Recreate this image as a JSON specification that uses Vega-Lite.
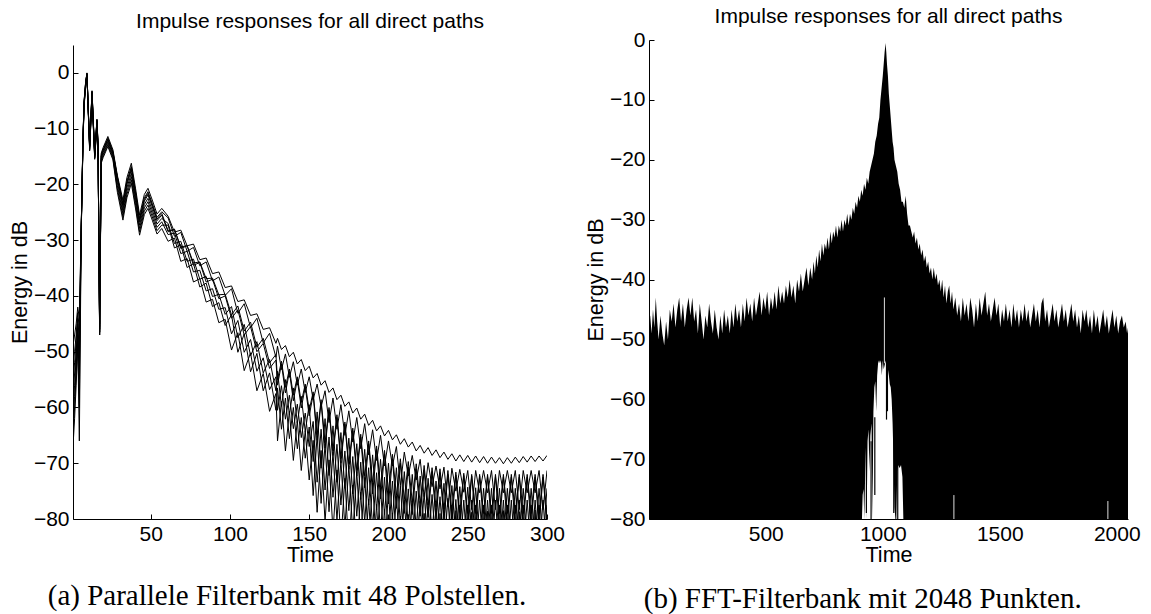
{"$schema":"https://vega.github.io/schema/vega-lite/v6.json","background":"white","padding":{"left":9,"top":6,"right":5,"bottom":0},
"config":{"view":{"stroke":null},"font":"Liberation Sans",
"axis":{"grid":false,"domainColor":"#000","domainWidth":1,"tickColor":"#000","tickSize":-5,"labelPadding":9,"labelFont":"Liberation Sans","labelFontSize":21,"labelColor":"#000","titleFont":"Liberation Sans","titleFontSize":21.5,"titleFontWeight":"normal","titleColor":"#000","labelFlush":false,"labelOverlap":false},
"axisX":{"titlePadding":0,"format":"d"},"axisY":{"titlePadding":2},
"title":{"font":"Liberation Sans","fontSize":21,"fontWeight":"normal","color":"#000"}},
"datasets":{
"fb":[
{"k":1,"t":1,"v":-49},{"k":1,"t":2,"v":-47},{"k":1,"t":3,"v":-45},{"k":1,"t":4,"v":-42},{"k":1,"t":5,"v":-44},{"k":1,"t":6.2,"v":-28},{"k":1,"t":7.3,"v":-12},{"k":1,"t":8,"v":-5.5},{"k":1,"t":9,"v":-2},{"k":1,"t":9.8,"v":0},{"k":1,"t":11.5,"v":-13.5},{"k":1,"t":13,"v":-3.7},{"k":1,"t":14.7,"v":-15},{"k":1,"t":16.1,"v":-8.8},{"k":1,"t":16.8,"v":-13.3},{"k":1,"t":17.8,"v":-47},{"k":1,"t":18.8,"v":-14.4},{"k":1,"t":20,"v":-13.4},{"k":1,"t":23,"v":-11.4},{"k":1,"t":26.2,"v":-13.8},{"k":1,"t":29,"v":-18.4},{"k":1,"t":32.5,"v":-22.8},{"k":1,"t":35,"v":-18.8},{"k":1,"t":37.8,"v":-16.2},{"k":1,"t":40.5,"v":-20.8},{"k":1,"t":43,"v":-25.5},{"k":1,"t":46,"v":-21.8},{"k":1,"t":48.3,"v":-20.7},{"k":1,"t":51,"v":-22.8},{"k":1,"t":54,"v":-25.3},{"k":1,"t":57,"v":-24.3},
{"k":1,"t":61,"v":-25.7},{"k":1,"t":65,"v":-28.55},{"k":1,"t":69,"v":-28.2},{"k":1,"t":73,"v":-31},{"k":1,"t":77,"v":-30.7},{"k":1,"t":81,"v":-33.5},{"k":1,"t":85,"v":-33.2},{"k":1,"t":89,"v":-36},{"k":1,"t":93,"v":-35.7},{"k":1,"t":97,"v":-38.5},{"k":1,"t":101,"v":-38.2},{"k":1,"t":105,"v":-41},{"k":1,"t":109,"v":-40.7},{"k":1,"t":113,"v":-43.5},{"k":1,"t":117,"v":-43.2},{"k":1,"t":121,"v":-46},{"k":1,"t":125,"v":-45.7},{"k":1,"t":129,"v":-48.5},
{"k":1,"t":130,"v":-47.6},{"k":1,"t":132.5,"v":-49.6},{"k":1,"t":135,"v":-48.9},{"k":1,"t":137.5,"v":-50.9},{"k":1,"t":140,"v":-50.1},{"k":1,"t":142.5,"v":-52.2},{"k":1,"t":145,"v":-51.4},{"k":1,"t":147.5,"v":-53.4},{"k":1,"t":150,"v":-52.6},{"k":1,"t":152.5,"v":-54.7},{"k":1,"t":155,"v":-53.9},{"k":1,"t":157.5,"v":-56},{"k":1,"t":160,"v":-55.2},{"k":1,"t":162.5,"v":-57.3},{"k":1,"t":165,"v":-56.5},{"k":1,"t":167.5,"v":-58.6},{"k":1,"t":170,"v":-57.8},{"k":1,"t":172.5,"v":-59.8},{"k":1,"t":175,"v":-59},{"k":1,"t":177.5,"v":-61},{"k":1,"t":180,"v":-60.1},{"k":1,"t":182.5,"v":-62.1},{"k":1,"t":185,"v":-61.2},{"k":1,"t":187.5,"v":-63.2},{"k":1,"t":190,"v":-62.3},{"k":1,"t":192.5,"v":-64.2},{"k":1,"t":195,"v":-63.3},{"k":1,"t":197.5,"v":-65.1},{"k":1,"t":200,"v":-64.1},{"k":1,"t":202.5,"v":-65.8},{"k":1,"t":205,"v":-64.9},{"k":1,"t":207.5,"v":-66.6},{"k":1,"t":210,"v":-65.6},{"k":1,"t":212.5,"v":-67.1},{"k":1,"t":215,"v":-66.2},{"k":1,"t":217.5,"v":-67.8},{"k":1,"t":220,"v":-66.8},{"k":1,"t":222.5,"v":-68.2},{"k":1,"t":225,"v":-67.2},{"k":1,"t":227.5,"v":-68.6},{"k":1,"t":230,"v":-67.6},{"k":1,"t":232.5,"v":-69},{"k":1,"t":235,"v":-68},{"k":1,"t":237.5,"v":-69.3},{"k":1,"t":240,"v":-68.3},{"k":1,"t":242.5,"v":-69.6},{"k":1,"t":245,"v":-68.5},{"k":1,"t":247.5,"v":-69.7},{"k":1,"t":250,"v":-68.6},{"k":1,"t":252.5,"v":-69.8},{"k":1,"t":255,"v":-68.7},{"k":1,"t":257.5,"v":-69.9},{"k":1,"t":260,"v":-68.8},{"k":1,"t":262.5,"v":-70},{"k":1,"t":265,"v":-68.9},{"k":1,"t":267.5,"v":-70},{"k":1,"t":270,"v":-69},{"k":1,"t":272.5,"v":-70.1},{"k":1,"t":275,"v":-69},{"k":1,"t":277.5,"v":-70},{"k":1,"t":280,"v":-68.9},{"k":1,"t":282.5,"v":-69.9},{"k":1,"t":285,"v":-68.8},{"k":1,"t":287.5,"v":-69.8},{"k":1,"t":290,"v":-68.7},{"k":1,"t":292.5,"v":-69.7},{"k":1,"t":295,"v":-68.7},{"k":1,"t":297.5,"v":-69.6},{"k":1,"t":300,"v":-68.6},
{"k":2,"t":1,"v":-52},{"k":2,"t":2,"v":-50},{"k":2,"t":3,"v":-47},{"k":2,"t":4,"v":-43},{"k":2,"t":5,"v":-46},{"k":2,"t":6.2,"v":-27.7},{"k":2,"t":7.3,"v":-11.7},{"k":2,"t":8,"v":-5.2},{"k":2,"t":9,"v":-1.7},{"k":2,"t":9.8,"v":-0.2},{"k":2,"t":11.5,"v":-13.2},{"k":2,"t":13,"v":-3.4},{"k":2,"t":14.7,"v":-14.7},{"k":2,"t":16.1,"v":-8.5},{"k":2,"t":16.8,"v":-13},{"k":2,"t":17.8,"v":-46.5},{"k":2,"t":18.8,"v":-14.7},{"k":2,"t":20,"v":-13.7},{"k":2,"t":23,"v":-11.7},{"k":2,"t":26.2,"v":-14.1},{"k":2,"t":29,"v":-18.7},{"k":2,"t":32.5,"v":-23.4},{"k":2,"t":35,"v":-19.4},{"k":2,"t":37.8,"v":-16.8},{"k":2,"t":40.5,"v":-21.4},{"k":2,"t":43,"v":-26.1},{"k":2,"t":46,"v":-22.4},{"k":2,"t":48.3,"v":-21.3},{"k":2,"t":51,"v":-23.4},{"k":2,"t":54,"v":-25.9},{"k":2,"t":57,"v":-24.9},
{"k":2,"t":61,"v":-26},{"k":2,"t":65,"v":-29.3},{"k":2,"t":69,"v":-28.6},{"k":2,"t":73,"v":-32},{"k":2,"t":77,"v":-31.3},{"k":2,"t":81,"v":-34.6},{"k":2,"t":85,"v":-33.9},{"k":2,"t":89,"v":-37.3},{"k":2,"t":93,"v":-36.6},{"k":2,"t":97,"v":-39.9},{"k":2,"t":101,"v":-38.7},{"k":2,"t":105,"v":-43.1},{"k":2,"t":109,"v":-41.4},{"k":2,"t":113,"v":-45.7},{"k":2,"t":117,"v":-44},{"k":2,"t":121,"v":-48.4},{"k":2,"t":125,"v":-46.7},{"k":2,"t":129,"v":-51},
{"k":2,"t":130,"v":-49},{"k":2,"t":132.5,"v":-53.2},{"k":2,"t":135,"v":-50.4},{"k":2,"t":137.5,"v":-54.6},{"k":2,"t":140,"v":-51.8},{"k":2,"t":142.5,"v":-56},{"k":2,"t":145,"v":-53.1},{"k":2,"t":147.5,"v":-57.3},{"k":2,"t":150,"v":-54.5},{"k":2,"t":152.5,"v":-58.6},{"k":2,"t":155,"v":-55.8},{"k":2,"t":157.5,"v":-59.9},{"k":2,"t":160,"v":-57},{"k":2,"t":162.5,"v":-62.7},{"k":2,"t":165,"v":-58.3},{"k":2,"t":167.5,"v":-63.9},{"k":2,"t":170,"v":-59.5},{"k":2,"t":172.5,"v":-65},{"k":2,"t":175,"v":-60.6},{"k":2,"t":177.5,"v":-66.2},{"k":2,"t":180,"v":-61.8},{"k":2,"t":182.5,"v":-67.4},{"k":2,"t":185,"v":-62.9},{"k":2,"t":187.5,"v":-68.5},{"k":2,"t":190,"v":-64},{"k":2,"t":192.5,"v":-69.5},{"k":2,"t":195,"v":-65},{"k":2,"t":197.5,"v":-70.5},{"k":2,"t":200,"v":-66},{"k":2,"t":202.5,"v":-70.5},{"k":2,"t":205,"v":-67},{"k":2,"t":207.5,"v":-74},{"k":2,"t":210,"v":-68},{"k":2,"t":212.5,"v":-72.3},{"k":2,"t":215,"v":-68.6},{"k":2,"t":217.5,"v":-73},{"k":2,"t":220,"v":-69.3},{"k":2,"t":222.5,"v":-76},{"k":2,"t":225,"v":-69.9},{"k":2,"t":227.5,"v":-74.2},{"k":2,"t":230,"v":-70.5},{"k":2,"t":232.5,"v":-74.6},{"k":2,"t":235,"v":-70.7},{"k":2,"t":237.5,"v":-77.8},{"k":2,"t":240,"v":-70.9},{"k":2,"t":242.5,"v":-75},{"k":2,"t":245,"v":-71.1},{"k":2,"t":247.5,"v":-75.2},{"k":2,"t":250,"v":-71.3},{"k":2,"t":252.5,"v":-78.3},{"k":2,"t":255,"v":-71.3},{"k":2,"t":257.5,"v":-75.3},{"k":2,"t":260,"v":-71.3},{"k":2,"t":262.5,"v":-75.3},{"k":2,"t":265,"v":-71.3},{"k":2,"t":267.5,"v":-78.3},{"k":2,"t":270,"v":-71.3},{"k":2,"t":272.5,"v":-75.3},{"k":2,"t":275,"v":-71.3},{"k":2,"t":277.5,"v":-75.3},{"k":2,"t":280,"v":-71.3},{"k":2,"t":282.5,"v":-78.3},{"k":2,"t":285,"v":-71.3},{"k":2,"t":287.5,"v":-75.3},{"k":2,"t":290,"v":-71.3},{"k":2,"t":292.5,"v":-75.3},{"k":2,"t":295,"v":-71.3},{"k":2,"t":297.5,"v":-78.3},{"k":2,"t":300,"v":-71.3},
{"k":3,"t":1,"v":-55},{"k":3,"t":2,"v":-52},{"k":3,"t":3,"v":-48},{"k":3,"t":4,"v":-44},{"k":3,"t":5,"v":-48},{"k":3,"t":6.2,"v":-28.3},{"k":3,"t":7.3,"v":-12.3},{"k":3,"t":8,"v":-5.8},{"k":3,"t":9,"v":-2.3},{"k":3,"t":9.8,"v":-0.3},{"k":3,"t":11.5,"v":-13.8},{"k":3,"t":13,"v":-4},{"k":3,"t":14.7,"v":-15.3},{"k":3,"t":16.1,"v":-9.1},{"k":3,"t":16.8,"v":-13.6},{"k":3,"t":17.8,"v":-46},{"k":3,"t":18.8,"v":-15},{"k":3,"t":20,"v":-14},{"k":3,"t":23,"v":-12},{"k":3,"t":26.2,"v":-14.4},{"k":3,"t":29,"v":-19},{"k":3,"t":32.5,"v":-24},{"k":3,"t":35,"v":-20},{"k":3,"t":37.8,"v":-17.4},{"k":3,"t":40.5,"v":-22},{"k":3,"t":43,"v":-26.7},{"k":3,"t":46,"v":-23},{"k":3,"t":48.3,"v":-21.9},{"k":3,"t":51,"v":-24},{"k":3,"t":54,"v":-26.5},{"k":3,"t":57,"v":-25.5},
{"k":3,"t":61,"v":-28.5},{"k":3,"t":65,"v":-28},{"k":3,"t":69,"v":-31.5},{"k":3,"t":73,"v":-31},{"k":3,"t":77,"v":-34.5},{"k":3,"t":81,"v":-34},{"k":3,"t":85,"v":-37.5},{"k":3,"t":89,"v":-37},{"k":3,"t":93,"v":-40.5},{"k":3,"t":97,"v":-40},{"k":3,"t":101,"v":-44},{"k":3,"t":105,"v":-42.5},{"k":3,"t":109,"v":-47},{"k":3,"t":113,"v":-45.5},{"k":3,"t":117,"v":-50},{"k":3,"t":121,"v":-48.5},{"k":3,"t":125,"v":-53},{"k":3,"t":129,"v":-51.5},
{"k":3,"t":130,"v":-56},{"k":3,"t":132.5,"v":-52.2},{"k":3,"t":135,"v":-57.4},{"k":3,"t":137.5,"v":-53.6},{"k":3,"t":140,"v":-58.8},{"k":3,"t":142.5,"v":-55},{"k":3,"t":145,"v":-60.1},{"k":3,"t":147.5,"v":-56.3},{"k":3,"t":150,"v":-61.5},{"k":3,"t":152.5,"v":-57.7},{"k":3,"t":155,"v":-65.9},{"k":3,"t":157.5,"v":-59.1},{"k":3,"t":160,"v":-67.3},{"k":3,"t":162.5,"v":-60.4},{"k":3,"t":165,"v":-68.6},{"k":3,"t":167.5,"v":-61.8},{"k":3,"t":170,"v":-70},{"k":3,"t":172.5,"v":-63},{"k":3,"t":175,"v":-71.1},{"k":3,"t":177.5,"v":-64.2},{"k":3,"t":180,"v":-72.3},{"k":3,"t":182.5,"v":-65.3},{"k":3,"t":185,"v":-74.4},{"k":3,"t":187.5,"v":-66.5},{"k":3,"t":190,"v":-75.5},{"k":3,"t":192.5,"v":-67.5},{"k":3,"t":195,"v":-76.4},{"k":3,"t":197.5,"v":-68.3},{"k":3,"t":200,"v":-77.3},{"k":3,"t":202.5,"v":-69.2},{"k":3,"t":205,"v":-78.1},{"k":3,"t":207.5,"v":-70},{"k":3,"t":210,"v":-79},{"k":3,"t":212.5,"v":-70.7},{"k":3,"t":215,"v":-79.2},{"k":3,"t":217.5,"v":-71},{"k":3,"t":220,"v":-79.5},{"k":3,"t":222.5,"v":-71.2},{"k":3,"t":225,"v":-79.7},{"k":3,"t":227.5,"v":-71.5},{"k":3,"t":230,"v":-80},{"k":3,"t":232.5,"v":-71.7},{"k":3,"t":235,"v":-80.2},{"k":3,"t":237.5,"v":-72},{"k":3,"t":240,"v":-80.5},{"k":3,"t":242.5,"v":-72.1},{"k":3,"t":245,"v":-80.7},{"k":3,"t":247.5,"v":-72.2},{"k":3,"t":250,"v":-80.8},{"k":3,"t":252.5,"v":-72.3},{"k":3,"t":255,"v":-80.8},{"k":3,"t":257.5,"v":-72.3},{"k":3,"t":260,"v":-80.9},{"k":3,"t":262.5,"v":-72.4},{"k":3,"t":265,"v":-80.9},{"k":3,"t":267.5,"v":-72.4},{"k":3,"t":270,"v":-81},{"k":3,"t":272.5,"v":-72.5},{"k":3,"t":275,"v":-81},{"k":3,"t":277.5,"v":-72.5},{"k":3,"t":280,"v":-81},{"k":3,"t":282.5,"v":-72.5},{"k":3,"t":285,"v":-81},{"k":3,"t":287.5,"v":-72.5},{"k":3,"t":290,"v":-81},{"k":3,"t":292.5,"v":-72.5},{"k":3,"t":295,"v":-81},{"k":3,"t":297.5,"v":-72.5},{"k":3,"t":300,"v":-81},
{"k":4,"t":1,"v":-57},{"k":4,"t":2,"v":-54},{"k":4,"t":3,"v":-50},{"k":4,"t":4,"v":-45},{"k":4,"t":5,"v":-50},{"k":4,"t":6.2,"v":-27.5},{"k":4,"t":7.3,"v":-11.5},{"k":4,"t":8,"v":-5},{"k":4,"t":9,"v":-1.5},{"k":4,"t":9.8,"v":-0.1},{"k":4,"t":11.5,"v":-13},{"k":4,"t":13,"v":-3.2},{"k":4,"t":14.7,"v":-14.5},{"k":4,"t":16.1,"v":-8.3},{"k":4,"t":16.8,"v":-12.8},{"k":4,"t":17.8,"v":-45.5},{"k":4,"t":18.8,"v":-15.3},{"k":4,"t":20,"v":-14.3},{"k":4,"t":23,"v":-12.3},{"k":4,"t":26.2,"v":-14.7},{"k":4,"t":29,"v":-19.6},{"k":4,"t":32.5,"v":-24.6},{"k":4,"t":35,"v":-20.6},{"k":4,"t":37.8,"v":-18},{"k":4,"t":40.5,"v":-22.6},{"k":4,"t":43,"v":-27.3},{"k":4,"t":46,"v":-23.6},{"k":4,"t":48.3,"v":-22.5},{"k":4,"t":51,"v":-24.6},{"k":4,"t":54,"v":-27.1},{"k":4,"t":57,"v":-26.1},
{"k":4,"t":61,"v":-27},{"k":4,"t":65,"v":-30.6},{"k":4,"t":69,"v":-30.2},{"k":4,"t":73,"v":-33.8},{"k":4,"t":77,"v":-33.4},{"k":4,"t":81,"v":-37},{"k":4,"t":85,"v":-36.5},{"k":4,"t":89,"v":-40.1},{"k":4,"t":93,"v":-39.7},{"k":4,"t":97,"v":-43.3},{"k":4,"t":101,"v":-41.9},{"k":4,"t":105,"v":-47.5},{"k":4,"t":109,"v":-45.1},{"k":4,"t":113,"v":-50.7},{"k":4,"t":117,"v":-48.2},{"k":4,"t":121,"v":-53.8},{"k":4,"t":125,"v":-51.4},{"k":4,"t":129,"v":-57},
{"k":4,"t":130,"v":-53.5},{"k":4,"t":132.5,"v":-59.8},{"k":4,"t":135,"v":-55},{"k":4,"t":137.5,"v":-61.3},{"k":4,"t":140,"v":-56.5},{"k":4,"t":142.5,"v":-62.8},{"k":4,"t":145,"v":-58},{"k":4,"t":147.5,"v":-64.3},{"k":4,"t":150,"v":-59.5},{"k":4,"t":152.5,"v":-69.7},{"k":4,"t":155,"v":-60.8},{"k":4,"t":157.5,"v":-70.9},{"k":4,"t":160,"v":-62},{"k":4,"t":162.5,"v":-72.2},{"k":4,"t":165,"v":-63.3},{"k":4,"t":167.5,"v":-73.4},{"k":4,"t":170,"v":-64.5},{"k":4,"t":172.5,"v":-74.5},{"k":4,"t":175,"v":-65.5},{"k":4,"t":177.5,"v":-75.5},{"k":4,"t":180,"v":-66.5},{"k":4,"t":182.5,"v":-76.5},{"k":4,"t":185,"v":-67.5},{"k":4,"t":187.5,"v":-77.5},{"k":4,"t":190,"v":-68.5},{"k":4,"t":192.5,"v":-78.4},{"k":4,"t":195,"v":-69.3},{"k":4,"t":197.5,"v":-79.2},{"k":4,"t":200,"v":-70},{"k":4,"t":202.5,"v":-79.9},{"k":4,"t":205,"v":-70.8},{"k":4,"t":207.5,"v":-80.7},{"k":4,"t":210,"v":-71.5},{"k":4,"t":212.5,"v":-81.2},{"k":4,"t":215,"v":-72},{"k":4,"t":217.5,"v":-81.6},{"k":4,"t":220,"v":-72.3},{"k":4,"t":222.5,"v":-82},{"k":4,"t":225,"v":-72.7},{"k":4,"t":227.5,"v":-82.5},{"k":4,"t":230,"v":-73.2},{"k":4,"t":232.5,"v":-82.9},{"k":4,"t":235,"v":-73.6},{"k":4,"t":237.5,"v":-83.3},{"k":4,"t":240,"v":-74},{"k":4,"t":242.5,"v":-83.5},{"k":4,"t":245,"v":-74.2},{"k":4,"t":247.5,"v":-83.7},{"k":4,"t":250,"v":-74.3},{"k":4,"t":252.5,"v":-83.8},{"k":4,"t":255,"v":-74.4},{"k":4,"t":257.5,"v":-84},{"k":4,"t":260,"v":-74.5},{"k":4,"t":262.5,"v":-84},{"k":4,"t":265,"v":-74.5},{"k":4,"t":267.5,"v":-84},{"k":4,"t":270,"v":-74.5},{"k":4,"t":272.5,"v":-84},{"k":4,"t":275,"v":-74.5},{"k":4,"t":277.5,"v":-84},{"k":4,"t":280,"v":-74.5},{"k":4,"t":282.5,"v":-84},{"k":4,"t":285,"v":-74.5},{"k":4,"t":287.5,"v":-84},{"k":4,"t":290,"v":-74.5},{"k":4,"t":292.5,"v":-84},{"k":4,"t":295,"v":-74.5},{"k":4,"t":297.5,"v":-84},{"k":4,"t":300,"v":-74.5},
{"k":5,"t":1,"v":-60},{"k":5,"t":2,"v":-56},{"k":5,"t":3,"v":-51},{"k":5,"t":4,"v":-46},{"k":5,"t":5,"v":-52},{"k":5,"t":6.2,"v":-28.5},{"k":5,"t":7.3,"v":-12.5},{"k":5,"t":8,"v":-6},{"k":5,"t":9,"v":-2.5},{"k":5,"t":9.8,"v":-0.5},{"k":5,"t":11.5,"v":-14},{"k":5,"t":13,"v":-4.2},{"k":5,"t":14.7,"v":-15.5},{"k":5,"t":16.1,"v":-9.3},{"k":5,"t":16.8,"v":-13.8},{"k":5,"t":17.8,"v":-45},{"k":5,"t":18.8,"v":-15.6},{"k":5,"t":20,"v":-14.6},{"k":5,"t":23,"v":-12.6},{"k":5,"t":26.2,"v":-15},{"k":5,"t":29,"v":-20.2},{"k":5,"t":32.5,"v":-25.2},{"k":5,"t":35,"v":-21.2},{"k":5,"t":37.8,"v":-18.6},{"k":5,"t":40.5,"v":-23.2},{"k":5,"t":43,"v":-27.9},{"k":5,"t":46,"v":-24.2},{"k":5,"t":48.3,"v":-23.1},{"k":5,"t":51,"v":-25.2},{"k":5,"t":54,"v":-27.7},{"k":5,"t":57,"v":-26.7},
{"k":5,"t":61,"v":-29},{"k":5,"t":65,"v":-28.7},{"k":5,"t":69,"v":-32.4},{"k":5,"t":73,"v":-32},{"k":5,"t":77,"v":-35.7},{"k":5,"t":81,"v":-35.4},{"k":5,"t":85,"v":-39.1},{"k":5,"t":89,"v":-38.7},{"k":5,"t":93,"v":-42.4},{"k":5,"t":97,"v":-42.1},{"k":5,"t":101,"v":-46.8},{"k":5,"t":105,"v":-44.4},{"k":5,"t":109,"v":-50.1},{"k":5,"t":113,"v":-47.8},{"k":5,"t":117,"v":-53.5},{"k":5,"t":121,"v":-51.1},{"k":5,"t":125,"v":-56.8},{"k":5,"t":129,"v":-54.5},
{"k":5,"t":130,"v":-60.5},{"k":5,"t":132.5,"v":-56.1},{"k":5,"t":135,"v":-62.1},{"k":5,"t":137.5,"v":-57.8},{"k":5,"t":140,"v":-63.8},{"k":5,"t":142.5,"v":-59.4},{"k":5,"t":145,"v":-65.4},{"k":5,"t":147.5,"v":-61},{"k":5,"t":150,"v":-67},{"k":5,"t":152.5,"v":-62.5},{"k":5,"t":155,"v":-73.4},{"k":5,"t":157.5,"v":-63.9},{"k":5,"t":160,"v":-74.8},{"k":5,"t":162.5,"v":-65.3},{"k":5,"t":165,"v":-76.1},{"k":5,"t":167.5,"v":-66.6},{"k":5,"t":170,"v":-77.5},{"k":5,"t":172.5,"v":-67.8},{"k":5,"t":175,"v":-78.5},{"k":5,"t":177.5,"v":-68.8},{"k":5,"t":180,"v":-79.5},{"k":5,"t":182.5,"v":-69.8},{"k":5,"t":185,"v":-80.5},{"k":5,"t":187.5,"v":-70.8},{"k":5,"t":190,"v":-81.5},{"k":5,"t":192.5,"v":-71.7},{"k":5,"t":195,"v":-82.3},{"k":5,"t":197.5,"v":-72.5},{"k":5,"t":200,"v":-83},{"k":5,"t":202.5,"v":-73.2},{"k":5,"t":205,"v":-83.8},{"k":5,"t":207.5,"v":-74},{"k":5,"t":210,"v":-84.5},{"k":5,"t":212.5,"v":-74.6},{"k":5,"t":215,"v":-85},{"k":5,"t":217.5,"v":-75},{"k":5,"t":220,"v":-85.2},{"k":5,"t":222.5,"v":-75.3},{"k":5,"t":225,"v":-85.5},{"k":5,"t":227.5,"v":-75.6},{"k":5,"t":230,"v":-85.8},{"k":5,"t":232.5,"v":-76},{"k":5,"t":235,"v":-86},{"k":5,"t":237.5,"v":-76.3},{"k":5,"t":240,"v":-86.5},{"k":5,"t":242.5,"v":-76.5},{"k":5,"t":245,"v":-86.6},{"k":5,"t":247.5,"v":-76.6},{"k":5,"t":250,"v":-86.8},{"k":5,"t":252.5,"v":-76.6},{"k":5,"t":255,"v":-86.8},{"k":5,"t":257.5,"v":-76.6},{"k":5,"t":260,"v":-86.8},{"k":5,"t":262.5,"v":-76.6},{"k":5,"t":265,"v":-86.8},{"k":5,"t":267.5,"v":-76.6},{"k":5,"t":270,"v":-86.8},{"k":5,"t":272.5,"v":-76.6},{"k":5,"t":275,"v":-86.8},{"k":5,"t":277.5,"v":-76.6},{"k":5,"t":280,"v":-86.8},{"k":5,"t":282.5,"v":-76.6},{"k":5,"t":285,"v":-86.8},{"k":5,"t":287.5,"v":-76.6},{"k":5,"t":290,"v":-86.8},{"k":5,"t":292.5,"v":-76.6},{"k":5,"t":295,"v":-86.8},{"k":5,"t":297.5,"v":-76.6},{"k":5,"t":300,"v":-86.8},
{"k":6,"t":1,"v":-62},{"k":6,"t":2,"v":-58},{"k":6,"t":3,"v":-53},{"k":6,"t":4,"v":-47},{"k":6,"t":5,"v":-55},{"k":6,"t":6.2,"v":-27.8},{"k":6,"t":7.3,"v":-11.8},{"k":6,"t":8,"v":-5.3},{"k":6,"t":9,"v":-1.8},{"k":6,"t":9.8,"v":-0.2},{"k":6,"t":11.5,"v":-13.3},{"k":6,"t":13,"v":-3.5},{"k":6,"t":14.7,"v":-14.8},{"k":6,"t":16.1,"v":-8.6},{"k":6,"t":16.8,"v":-13.1},{"k":6,"t":17.8,"v":-46},{"k":6,"t":18.8,"v":-15.9},{"k":6,"t":20,"v":-14.9},{"k":6,"t":23,"v":-12.9},{"k":6,"t":26.2,"v":-15.3},{"k":6,"t":29,"v":-20.8},{"k":6,"t":32.5,"v":-25.8},{"k":6,"t":35,"v":-21.8},{"k":6,"t":37.8,"v":-19.2},{"k":6,"t":40.5,"v":-23.8},{"k":6,"t":43,"v":-28.5},{"k":6,"t":46,"v":-24.8},{"k":6,"t":48.3,"v":-23.7},{"k":6,"t":51,"v":-25.8},{"k":6,"t":54,"v":-28.3},{"k":6,"t":57,"v":-27.3},
{"k":6,"t":61,"v":-27.3},{"k":6,"t":65,"v":-31.4},{"k":6,"t":69,"v":-30.8},{"k":6,"t":73,"v":-34.9},{"k":6,"t":77,"v":-34.2},{"k":6,"t":81,"v":-38.4},{"k":6,"t":85,"v":-37.7},{"k":6,"t":89,"v":-41.9},{"k":6,"t":93,"v":-41.2},{"k":6,"t":97,"v":-45.3},{"k":6,"t":101,"v":-43.4},{"k":6,"t":105,"v":-50.1},{"k":6,"t":109,"v":-46.8},{"k":6,"t":113,"v":-53.6},{"k":6,"t":117,"v":-50.3},{"k":6,"t":121,"v":-57},{"k":6,"t":125,"v":-53.8},{"k":6,"t":129,"v":-60.5},
{"k":6,"t":130,"v":-56.5},{"k":6,"t":132.5,"v":-63.9},{"k":6,"t":135,"v":-58.3},{"k":6,"t":137.5,"v":-65.6},{"k":6,"t":140,"v":-60},{"k":6,"t":142.5,"v":-67.4},{"k":6,"t":145,"v":-61.8},{"k":6,"t":147.5,"v":-69.1},{"k":6,"t":150,"v":-63.5},{"k":6,"t":152.5,"v":-75.8},{"k":6,"t":155,"v":-65},{"k":6,"t":157.5,"v":-77.2},{"k":6,"t":160,"v":-66.5},{"k":6,"t":162.5,"v":-78.7},{"k":6,"t":165,"v":-68},{"k":6,"t":167.5,"v":-80.2},{"k":6,"t":170,"v":-69.5},{"k":6,"t":172.5,"v":-81.5},{"k":6,"t":175,"v":-70.5},{"k":6,"t":177.5,"v":-82.5},{"k":6,"t":180,"v":-71.5},{"k":6,"t":182.5,"v":-83.5},{"k":6,"t":185,"v":-72.5},{"k":6,"t":187.5,"v":-84.5},{"k":6,"t":190,"v":-73.5},{"k":6,"t":192.5,"v":-85.4},{"k":6,"t":195,"v":-74.3},{"k":6,"t":197.5,"v":-86.2},{"k":6,"t":200,"v":-75},{"k":6,"t":202.5,"v":-86.9},{"k":6,"t":205,"v":-75.8},{"k":6,"t":207.5,"v":-87.6},{"k":6,"t":210,"v":-76.5},{"k":6,"t":212.5,"v":-88},{"k":6,"t":215,"v":-76.7},{"k":6,"t":217.5,"v":-88.2},{"k":6,"t":220,"v":-76.8},{"k":6,"t":222.5,"v":-88.4},{"k":6,"t":225,"v":-77},{"k":6,"t":227.5,"v":-88.5},{"k":6,"t":230,"v":-77.2},{"k":6,"t":232.5,"v":-88.8},{"k":6,"t":235,"v":-77.4},{"k":6,"t":237.5,"v":-89},{"k":6,"t":240,"v":-77.5},{"k":6,"t":242.5,"v":-89},{"k":6,"t":245,"v":-77.5},{"k":6,"t":247.5,"v":-89},{"k":6,"t":250,"v":-77.5},{"k":6,"t":252.5,"v":-89},{"k":6,"t":255,"v":-77.5},{"k":6,"t":257.5,"v":-89},{"k":6,"t":260,"v":-77.5},{"k":6,"t":262.5,"v":-89},{"k":6,"t":265,"v":-77.5},{"k":6,"t":267.5,"v":-89},{"k":6,"t":270,"v":-77.5},{"k":6,"t":272.5,"v":-89},{"k":6,"t":275,"v":-77.5},{"k":6,"t":277.5,"v":-89},{"k":6,"t":280,"v":-77.5},{"k":6,"t":282.5,"v":-89},{"k":6,"t":285,"v":-77.5},{"k":6,"t":287.5,"v":-89},{"k":6,"t":290,"v":-77.5},{"k":6,"t":292.5,"v":-89},{"k":6,"t":295,"v":-77.5},{"k":6,"t":297.5,"v":-89},{"k":6,"t":300,"v":-77.5},
{"k":7,"t":1,"v":-65},{"k":7,"t":2,"v":-60},{"k":7,"t":3,"v":-54},{"k":7,"t":4,"v":-48},{"k":7,"t":5,"v":-66},{"k":7,"t":6.2,"v":-28.2},{"k":7,"t":7.3,"v":-12.2},{"k":7,"t":8,"v":-5.7},{"k":7,"t":9,"v":-2.2},{"k":7,"t":9.8,"v":-0.2},{"k":7,"t":11.5,"v":-13.7},{"k":7,"t":13,"v":-3.9},{"k":7,"t":14.7,"v":-15.2},{"k":7,"t":16.1,"v":-9},{"k":7,"t":16.8,"v":-13.5},{"k":7,"t":17.8,"v":-47},{"k":7,"t":18.8,"v":-16.2},{"k":7,"t":20,"v":-15.2},{"k":7,"t":23,"v":-13.2},{"k":7,"t":26.2,"v":-15.6},{"k":7,"t":29,"v":-21.4},{"k":7,"t":32.5,"v":-26.4},{"k":7,"t":35,"v":-22.4},{"k":7,"t":37.8,"v":-19.8},{"k":7,"t":40.5,"v":-24.4},{"k":7,"t":43,"v":-29.1},{"k":7,"t":46,"v":-25.4},{"k":7,"t":48.3,"v":-24.3},{"k":7,"t":51,"v":-26.4},{"k":7,"t":54,"v":-28.9},{"k":7,"t":57,"v":-27.9},
{"k":7,"t":61,"v":-30.2},{"k":7,"t":65,"v":-29.6},{"k":7,"t":69,"v":-33.8},{"k":7,"t":73,"v":-33.3},{"k":7,"t":77,"v":-37.5},{"k":7,"t":81,"v":-36.9},{"k":7,"t":85,"v":-41.1},{"k":7,"t":89,"v":-40.6},{"k":7,"t":93,"v":-44.8},{"k":7,"t":97,"v":-44.2},{"k":7,"t":101,"v":-49.7},{"k":7,"t":105,"v":-46.6},{"k":7,"t":109,"v":-53.4},{"k":7,"t":113,"v":-50.2},{"k":7,"t":117,"v":-57},{"k":7,"t":121,"v":-53.9},{"k":7,"t":125,"v":-60.7},{"k":7,"t":129,"v":-57.5},
{"k":7,"t":130,"v":-66},{"k":7,"t":132.5,"v":-58.9},{"k":7,"t":135,"v":-67.8},{"k":7,"t":137.5,"v":-60.7},{"k":7,"t":140,"v":-69.5},{"k":7,"t":142.5,"v":-62.4},{"k":7,"t":145,"v":-71.3},{"k":7,"t":147.5,"v":-64.2},{"k":7,"t":150,"v":-73},{"k":7,"t":152.5,"v":-65.9},{"k":7,"t":155,"v":-78.8},{"k":7,"t":157.5,"v":-67.7},{"k":7,"t":160,"v":-80.5},{"k":7,"t":162.5,"v":-69.4},{"k":7,"t":165,"v":-82.3},{"k":7,"t":167.5,"v":-71.2},{"k":7,"t":170,"v":-84},{"k":7,"t":172.5,"v":-72.7},{"k":7,"t":175,"v":-85.3},{"k":7,"t":177.5,"v":-73.9},{"k":7,"t":180,"v":-86.5},{"k":7,"t":182.5,"v":-75.2},{"k":7,"t":185,"v":-87.8},{"k":7,"t":187.5,"v":-76.4},{"k":7,"t":190,"v":-89},{"k":7,"t":192.5,"v":-77.4},{"k":7,"t":195,"v":-89.8},{"k":7,"t":197.5,"v":-78.2},{"k":7,"t":200,"v":-90.5},{"k":7,"t":202.5,"v":-78.9},{"k":7,"t":205,"v":-91.3},{"k":7,"t":207.5,"v":-79.5},{"k":7,"t":210,"v":-92},{"k":7,"t":212.5,"v":-79.2},{"k":7,"t":215,"v":-92},{"k":7,"t":217.5,"v":-80.5},{"k":7,"t":220,"v":-92.5},{"k":7,"t":222.5,"v":-79},{"k":7,"t":225,"v":-92.7},{"k":7,"t":227.5,"v":-80.8},{"k":7,"t":230,"v":-93},{"k":7,"t":232.5,"v":-79},{"k":7,"t":235,"v":-93},{"k":7,"t":237.5,"v":-80.5},{"k":7,"t":240,"v":-93},{"k":7,"t":242.5,"v":-78.5},{"k":7,"t":245,"v":-93},{"k":7,"t":247.5,"v":-81},{"k":7,"t":250,"v":-93},{"k":7,"t":252.5,"v":-78.8},{"k":7,"t":255,"v":-93},{"k":7,"t":257.5,"v":-80.5},{"k":7,"t":260,"v":-93},{"k":7,"t":262.5,"v":-78.6},{"k":7,"t":265,"v":-93},{"k":7,"t":267.5,"v":-81},{"k":7,"t":270,"v":-93},{"k":7,"t":272.5,"v":-78.5},{"k":7,"t":275,"v":-93},{"k":7,"t":277.5,"v":-80.8},{"k":7,"t":280,"v":-93},{"k":7,"t":282.5,"v":-78.7},{"k":7,"t":285,"v":-93},{"k":7,"t":287.5,"v":-80.5},{"k":7,"t":290,"v":-93},{"k":7,"t":292.5,"v":-78.4},{"k":7,"t":295,"v":-93},{"k":7,"t":297.5,"v":-80.6},{"k":7,"t":300,"v":-93},
{"k":8,"t":1,"v":-67},{"k":8,"t":2,"v":-62},{"k":8,"t":3,"v":-56},{"k":8,"t":4,"v":-49},{"k":8,"t":5,"v":-60},{"k":8,"t":6.2,"v":-27.6},{"k":8,"t":7.3,"v":-11.6},{"k":8,"t":8,"v":-5.1},{"k":8,"t":9,"v":-1.6},{"k":8,"t":9.8,"v":-0.1},{"k":8,"t":11.5,"v":-13.1},{"k":8,"t":13,"v":-3.3},{"k":8,"t":14.7,"v":-14.6},{"k":8,"t":16.1,"v":-8.4},{"k":8,"t":16.8,"v":-12.9},{"k":8,"t":17.8,"v":-46.5},{"k":8,"t":18.8,"v":-14.9},{"k":8,"t":20,"v":-13.9},{"k":8,"t":23,"v":-11.9},{"k":8,"t":26.2,"v":-14.3},{"k":8,"t":29,"v":-18.7},{"k":8,"t":32.5,"v":-23.7},{"k":8,"t":35,"v":-19.7},{"k":8,"t":37.8,"v":-17.1},{"k":8,"t":40.5,"v":-21.7},{"k":8,"t":43,"v":-26.4},{"k":8,"t":46,"v":-22.7},{"k":8,"t":48.3,"v":-21.6},{"k":8,"t":51,"v":-23.7},{"k":8,"t":54,"v":-26.2},{"k":8,"t":57,"v":-25.2},
{"k":8,"t":61,"v":-28.3},{"k":8,"t":65,"v":-28.1},{"k":8,"t":69,"v":-31.2},{"k":8,"t":73,"v":-31},{"k":8,"t":77,"v":-34.1},{"k":8,"t":81,"v":-33.9},{"k":8,"t":85,"v":-36.9},{"k":8,"t":89,"v":-36.8},{"k":8,"t":93,"v":-39.8},{"k":8,"t":97,"v":-39.7},{"k":8,"t":101,"v":-43.4},{"k":8,"t":105,"v":-41.8},{"k":8,"t":109,"v":-46.3},{"k":8,"t":113,"v":-44.7},{"k":8,"t":117,"v":-49.2},{"k":8,"t":121,"v":-47.6},{"k":8,"t":125,"v":-52},{"k":8,"t":129,"v":-50.5},
{"k":8,"t":130,"v":-55},{"k":8,"t":132.5,"v":-51.7},{"k":8,"t":135,"v":-56.4},{"k":8,"t":137.5,"v":-53.1},{"k":8,"t":140,"v":-57.8},{"k":8,"t":142.5,"v":-54.5},{"k":8,"t":145,"v":-59.1},{"k":8,"t":147.5,"v":-55.8},{"k":8,"t":150,"v":-60.5},{"k":8,"t":152.5,"v":-57.2},{"k":8,"t":155,"v":-64.9},{"k":8,"t":157.5,"v":-58.6},{"k":8,"t":160,"v":-66.3},{"k":8,"t":162.5,"v":-60},{"k":8,"t":165,"v":-67.6},{"k":8,"t":167.5,"v":-61.3},{"k":8,"t":170,"v":-69},{"k":8,"t":172.5,"v":-62.6},{"k":8,"t":175,"v":-70.1},{"k":8,"t":177.5,"v":-63.7},{"k":8,"t":180,"v":-71.3},{"k":8,"t":182.5,"v":-64.8},{"k":8,"t":185,"v":-72.4},{"k":8,"t":187.5,"v":-66},{"k":8,"t":190,"v":-73.5},{"k":8,"t":192.5,"v":-66.9},{"k":8,"t":195,"v":-74.3},{"k":8,"t":197.5,"v":-67.7},{"k":8,"t":200,"v":-75},{"k":8,"t":202.5,"v":-68.4},{"k":8,"t":205,"v":-75.8},{"k":8,"t":207.5,"v":-69.2},{"k":8,"t":210,"v":-76.5},{"k":8,"t":212.5,"v":-69.7},{"k":8,"t":215,"v":-77},{"k":8,"t":217.5,"v":-70.1},{"k":8,"t":220,"v":-77.2},{"k":8,"t":222.5,"v":-70.4},{"k":8,"t":225,"v":-77.5},{"k":8,"t":227.5,"v":-70.8},{"k":8,"t":230,"v":-77.8},{"k":8,"t":232.5,"v":-71},{"k":8,"t":235,"v":-78.2},{"k":8,"t":237.5,"v":-71.3},{"k":8,"t":240,"v":-78.5},{"k":8,"t":242.5,"v":-71.6},{"k":8,"t":245,"v":-78.8},{"k":8,"t":247.5,"v":-71.8},{"k":8,"t":250,"v":-79},{"k":8,"t":252.5,"v":-72},{"k":8,"t":255,"v":-79},{"k":8,"t":257.5,"v":-72},{"k":8,"t":260,"v":-79},{"k":8,"t":262.5,"v":-72},{"k":8,"t":265,"v":-79},{"k":8,"t":267.5,"v":-72},{"k":8,"t":270,"v":-79},{"k":8,"t":272.5,"v":-72},{"k":8,"t":275,"v":-79},{"k":8,"t":277.5,"v":-72},{"k":8,"t":280,"v":-79},{"k":8,"t":282.5,"v":-72},{"k":8,"t":285,"v":-79},{"k":8,"t":287.5,"v":-72},{"k":8,"t":290,"v":-79},{"k":8,"t":292.5,"v":-72},{"k":8,"t":295,"v":-79},{"k":8,"t":297.5,"v":-72},{"k":8,"t":300,"v":-79}
],
"env":[
{"t":1,"v":-47},{"t":6,"v":-46},{"t":12,"v":-49},{"t":18,"v":-45},{"t":24,"v":-48},{"t":30,"v":-43},{"t":36,"v":-47},{"t":42,"v":-50},{"t":50,"v":-46},{"t":58,"v":-49},{"t":66,"v":-51},{"t":74,"v":-47},{"t":82,"v":-50},{"t":90,"v":-45},{"t":98,"v":-47},{"t":106,"v":-44},{"t":114,"v":-48},{"t":122,"v":-45},{"t":130,"v":-43},{"t":138,"v":-47},{"t":146,"v":-44},{"t":154,"v":-48},{"t":162,"v":-45},{"t":170,"v":-43},{"t":178,"v":-46},{"t":186,"v":-43},{"t":194,"v":-47},{"t":202,"v":-45},{"t":210,"v":-49},{"t":218,"v":-44},{"t":226,"v":-47},{"t":234,"v":-50},{"t":242,"v":-46},{"t":250,"v":-48},{"t":258,"v":-44},{"t":266,"v":-47},{"t":274,"v":-49},{"t":282,"v":-45},{"t":290,"v":-48},{"t":298,"v":-50},{"t":306,"v":-46},{"t":314,"v":-49},{"t":322,"v":-45},{"t":330,"v":-48},{"t":338,"v":-46},{"t":346,"v":-49},{"t":354,"v":-45},{"t":362,"v":-48},{"t":370,"v":-44},{"t":378,"v":-47},{"t":386,"v":-45},{"t":394,"v":-48},{"t":402,"v":-44},{"t":410,"v":-47},{"t":418,"v":-43},{"t":426,"v":-46},{"t":434,"v":-44},{"t":442,"v":-47},{"t":450,"v":-43},{"t":458,"v":-46},{"t":466,"v":-44},{"t":474,"v":-42},{"t":482,"v":-46},{"t":490,"v":-43},{"t":498,"v":-45},{"t":506,"v":-42},{"t":514,"v":-46},{"t":522,"v":-43},{"t":530,"v":-45},{"t":538,"v":-42},{"t":546,"v":-45},{"t":554,"v":-41},{"t":562,"v":-44},{"t":570,"v":-42},{"t":578,"v":-44},{"t":586,"v":-41},{"t":594,"v":-43},{"t":602,"v":-40},{"t":610,"v":-43},{"t":618,"v":-41},{"t":626,"v":-44},{"t":634,"v":-40},{"t":642,"v":-42},{"t":650,"v":-39},{"t":658,"v":-42},{"t":666,"v":-40},{"t":674,"v":-38},{"t":682,"v":-41},{"t":690,"v":-38},{"t":698,"v":-40},{"t":704,"v":-37},{"t":710,"v":-39},{"t":716,"v":-36},{"t":722,"v":-38},{"t":728,"v":-35},{"t":734,"v":-37},{"t":740,"v":-34},{"t":746,"v":-36},{"t":752,"v":-34},{"t":758,"v":-35},{"t":764,"v":-33},{"t":770,"v":-35},{"t":776,"v":-32},{"t":782,"v":-34},{"t":788,"v":-32},{"t":794,"v":-33},{"t":800,"v":-31},{"t":806,"v":-33},{"t":812,"v":-31},{"t":818,"v":-32},{"t":824,"v":-30},{"t":830,"v":-32},{"t":836,"v":-30},{"t":842,"v":-31},{"t":848,"v":-29},{"t":854,"v":-31},{"t":860,"v":-29},{"t":866,"v":-30},{"t":872,"v":-28},{"t":878,"v":-29},{"t":884,"v":-27},{"t":890,"v":-28},{"t":896,"v":-26},{"t":902,"v":-27},{"t":908,"v":-25},{"t":914,"v":-26},{"t":920,"v":-24},{"t":926,"v":-25},{"t":932,"v":-23},{"t":938,"v":-24},{"t":944,"v":-22},{"t":950,"v":-21},{"t":956,"v":-20},{"t":962,"v":-19},{"t":968,"v":-17},{"t":974,"v":-16},{"t":980,"v":-14},{"t":985,"v":-13},{"t":990,"v":-10},{"t":995,"v":-8},{"t":1000,"v":-6},{"t":1004,"v":-4},{"t":1008,"v":-2},{"t":1012,"v":-0.5},{"t":1015,"v":-2},{"t":1018,"v":-4},{"t":1022,"v":-6},{"t":1026,"v":-9},{"t":1030,"v":-11},{"t":1034,"v":-13},{"t":1038,"v":-15},{"t":1042,"v":-17},{"t":1046,"v":-18},{"t":1050,"v":-20},{"t":1056,"v":-21},{"t":1062,"v":-22},{"t":1068,"v":-24},{"t":1074,"v":-25},{"t":1080,"v":-27},{"t":1086,"v":-27},{"t":1092,"v":-28},{"t":1098,"v":-26},{"t":1104,"v":-29},{"t":1110,"v":-31},{"t":1116,"v":-31},{"t":1122,"v":-32},{"t":1128,"v":-33},{"t":1134,"v":-32},{"t":1140,"v":-34},{"t":1146,"v":-33},{"t":1152,"v":-35},{"t":1158,"v":-34},{"t":1164,"v":-36},{"t":1170,"v":-35},{"t":1176,"v":-37},{"t":1182,"v":-36},{"t":1188,"v":-38},{"t":1194,"v":-37},{"t":1200,"v":-39},{"t":1206,"v":-38},{"t":1212,"v":-40},{"t":1218,"v":-38},{"t":1224,"v":-40},{"t":1230,"v":-39},{"t":1236,"v":-41},{"t":1242,"v":-40},{"t":1248,"v":-42},{"t":1254,"v":-40},{"t":1260,"v":-43},{"t":1266,"v":-41},{"t":1272,"v":-44},{"t":1278,"v":-42},{"t":1284,"v":-41},{"t":1290,"v":-44},{"t":1296,"v":-42},{"t":1302,"v":-45},{"t":1310,"v":-43},{"t":1318,"v":-46},{"t":1326,"v":-44},{"t":1334,"v":-47},{"t":1342,"v":-43},{"t":1350,"v":-46},{"t":1358,"v":-44},{"t":1366,"v":-47},{"t":1374,"v":-43},{"t":1382,"v":-45},{"t":1390,"v":-48},{"t":1398,"v":-44},{"t":1406,"v":-47},{"t":1414,"v":-43},{"t":1422,"v":-46},{"t":1430,"v":-44},{"t":1438,"v":-42},{"t":1446,"v":-46},{"t":1454,"v":-44},{"t":1462,"v":-47},{"t":1470,"v":-45},{"t":1478,"v":-43},{"t":1486,"v":-46},{"t":1494,"v":-44},{"t":1502,"v":-48},{"t":1510,"v":-45},{"t":1518,"v":-47},{"t":1526,"v":-44},{"t":1534,"v":-47},{"t":1542,"v":-45},{"t":1550,"v":-48},{"t":1558,"v":-44},{"t":1566,"v":-47},{"t":1574,"v":-45},{"t":1582,"v":-48},{"t":1590,"v":-45},{"t":1598,"v":-47},{"t":1606,"v":-44},{"t":1614,"v":-47},{"t":1622,"v":-45},{"t":1630,"v":-48},{"t":1638,"v":-46},{"t":1646,"v":-44},{"t":1654,"v":-47},{"t":1662,"v":-45},{"t":1670,"v":-48},{"t":1678,"v":-44},{"t":1686,"v":-43},{"t":1694,"v":-47},{"t":1702,"v":-45},{"t":1710,"v":-48},{"t":1718,"v":-46},{"t":1726,"v":-44},{"t":1734,"v":-47},{"t":1742,"v":-45},{"t":1750,"v":-48},{"t":1758,"v":-46},{"t":1766,"v":-44},{"t":1774,"v":-47},{"t":1782,"v":-45},{"t":1790,"v":-48},{"t":1798,"v":-46},{"t":1806,"v":-44},{"t":1814,"v":-47},{"t":1822,"v":-45},{"t":1830,"v":-48},{"t":1838,"v":-46},{"t":1846,"v":-49},{"t":1854,"v":-45},{"t":1862,"v":-47},{"t":1870,"v":-45},{"t":1878,"v":-48},{"t":1886,"v":-46},{"t":1894,"v":-49},{"t":1902,"v":-45},{"t":1910,"v":-48},{"t":1918,"v":-46},{"t":1926,"v":-49},{"t":1934,"v":-47},{"t":1942,"v":-45},{"t":1950,"v":-48},{"t":1958,"v":-46},{"t":1966,"v":-49},{"t":1974,"v":-47},{"t":1982,"v":-45},{"t":1990,"v":-48},{"t":1998,"v":-46},{"t":2006,"v":-49},{"t":2014,"v":-47},{"t":2022,"v":-46},{"t":2030,"v":-48},{"t":2038,"v":-47},{"t":2044,"v":-49},{"t":2048,"v":-48}
],
"wh":[
{"t":911,"v":-80},{"t":914,"v":-76},{"t":918,"v":-75},{"t":921,"v":-80},{"t":925,"v":-72},{"t":928,"v":-68},{"t":931,"v":-80},{"t":935,"v":-67},{"t":939,"v":-65},{"t":943,"v":-72},{"t":947,"v":-66},{"t":952,"v":-64},{"t":956,"v":-80},{"t":960,"v":-62},{"t":964,"v":-58},{"t":968,"v":-57},{"t":972,"v":-62},{"t":976,"v":-56},{"t":980,"v":-54},{"t":984,"v":-53.5},{"t":988,"v":-54},{"t":992,"v":-53.5},{"t":996,"v":-56},{"t":1000,"v":-53.5},{"t":1004,"v":-55},{"t":1010,"v":-54},{"t":1014,"v":-53.5},{"t":1018,"v":-54.5},{"t":1022,"v":-55},{"t":1026,"v":-56},{"t":1030,"v":-57.5},{"t":1034,"v":-58},{"t":1038,"v":-60},{"t":1042,"v":-64},{"t":1046,"v":-70},{"t":1050,"v":-78},{"t":1054,"v":-80},{"t":1058,"v":-80},{"t":1062,"v":-72},{"t":1066,"v":-71},{"t":1072,"v":-71.5},{"t":1078,"v":-71},{"t":1084,"v":-73},{"t":1088,"v":-80}
],
"rb":[
{"t":930,"v":-79,"v2":-66},{"t":950,"v":-80,"v2":-67},{"t":966,"v":-76,"v2":-63},{"t":1016,"v":-63.4,"v2":-53.4},{"t":1020,"v":-62,"v2":-54},{"t":1047,"v":-79,"v2":-58},{"t":1064,"v":-80,"v2":-71}
],
"rw":[
{"t":1007,"v":-54,"v2":-43},{"t":1304,"v":-80,"v2":-76},{"t":1962,"v":-80,"v2":-77}
]
},
"spacing":20,
"hconcat":[
{"title":{"text":"(a) Parallele Filterbank mit 48 Polstellen.","orient":"bottom","anchor":"middle","font":"Liberation Serif","fontSize":29,"fontWeight":"normal","offset":16},
 "vconcat":[{
  "width":474,"height":479,
  "title":{"text":"Impulse responses for all direct paths","offset":8},
  "data":{"name":"fb"},
  "mark":{"type":"line","clip":true,"color":"#000","strokeWidth":1,"strokeJoin":"round"},
  "encoding":{
   "x":{"field":"t","type":"quantitative","title":"Time","scale":{"domain":[1,300],"nice":false,"zero":false},"axis":{"values":[50,100,150,200,250,300]}},
   "y":{"field":"v","type":"quantitative","title":"Energy in dB","scale":{"domain":[-80,5],"range":[479,5],"nice":false,"zero":false},"axis":{"values":[-80,-70,-60,-50,-40,-30,-20,-10,0]}},
   "detail":{"field":"k","type":"nominal"}
  }
 }]
},
{"title":{"text":"(b) FFT-Filterbank mit 2048 Punkten.","orient":"bottom","anchor":"middle","font":"Liberation Serif","fontSize":29,"fontWeight":"normal","offset":19},
 "vconcat":[{
  "width":479,"height":479,
  "title":{"text":"Impulse responses for all direct paths","offset":2},
  "encoding":{
   "x":{"field":"t","type":"quantitative","title":"Time","scale":{"domain":[1,2048],"nice":false,"zero":false},"axis":{"values":[500,1000,1500,2000]}},
   "y":{"field":"v","type":"quantitative","title":"Energy in dB","scale":{"domain":[-80,0],"nice":false,"zero":false},"axis":{"values":[-80,-70,-60,-50,-40,-30,-20,-10,0]}}
  },
  "layer":[
   {"data":{"name":"env"},"mark":{"type":"area","color":"#000","clip":true},"encoding":{"y2":{"datum":-80}}},
   {"data":{"name":"wh"},"mark":{"type":"area","color":"#fff","clip":true},"encoding":{"y2":{"datum":-80}}},
   {"data":{"name":"rb"},"mark":{"type":"rule","color":"#000","strokeWidth":1.2,"clip":true},"encoding":{"y2":{"field":"v2"}}},
   {"data":{"name":"rw"},"mark":{"type":"rule","color":"#ddd","strokeWidth":1,"clip":true},"encoding":{"y2":{"field":"v2"}}}
  ]
 }]
}
]
}
